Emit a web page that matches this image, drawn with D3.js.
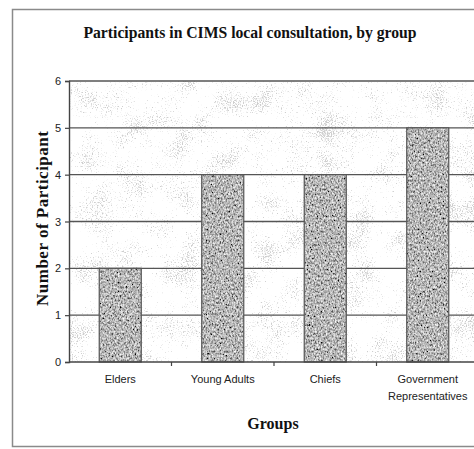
<!DOCTYPE html>
<html>
<head>
<meta charset="utf-8">
<script src="https://cdn.jsdelivr.net/npm/d3@7"></script>
<style>
  html, body { margin: 0; padding: 0; background: #fff; }
  svg { display: block; }
</style>
</head>
<body>
<svg id="chart" width="474" height="449"></svg>
<script>
// Chart data
const groups = ["Elders", "Young Adults", "Chiefs", "Government Representatives"];
const participants = [2, 4, 4, 5];
const yTicks = [0, 1, 2, 3, 4, 5, 6];
const titleText = "Participants in CIMS local consultation, by group";
const yTitle = "Number of Participants";
const xTitle = "Groups";

const svg = d3.select("#chart");
const W = 474, H = 449;
const plot = { left: 69, top: 81, right: 479, bottom: 362 };

const defs = svg.append("defs");
const opaqueGray = "1 0 0 0 0  1 0 0 0 0  1 0 0 0 0  0 0 0 0 1";

// Grainy fill for the bars
const grain = defs.append("filter").attr("id", "grain")
  .attr("x", 0).attr("y", 0).attr("width", 1).attr("height", 1);
grain.append("feTurbulence").attr("type", "fractalNoise")
  .attr("baseFrequency", "0.65 0.45").attr("numOctaves", 3).attr("seed", 7).attr("result", "noise");
grain.append("feColorMatrix").attr("in", "noise").attr("type", "matrix")
  .attr("values", "1.5 0 0 0 -0.28  1.5 0 0 0 -0.28  1.5 0 0 0 -0.28  0 0 0 0 1")
  .attr("result", "tone");
grain.append("feComposite").attr("in", "tone").attr("in2", "SourceGraphic").attr("operator", "in");

// Sparse, patchy stipple over the plot background
const stipple = defs.append("filter").attr("id", "stipple")
  .attr("x", 0).attr("y", 0).attr("width", 1).attr("height", 1);
stipple.append("feTurbulence").attr("type", "fractalNoise")
  .attr("baseFrequency", 0.8).attr("numOctaves", 2).attr("seed", 3).attr("result", "fineRaw");
stipple.append("feColorMatrix").attr("in", "fineRaw").attr("type", "matrix")
  .attr("values", opaqueGray).attr("result", "fine");
stipple.append("feTurbulence").attr("type", "fractalNoise")
  .attr("baseFrequency", 0.035).attr("numOctaves", 2).attr("seed", 11).attr("result", "coarseRaw");
stipple.append("feColorMatrix").attr("in", "coarseRaw").attr("type", "matrix")
  .attr("values", opaqueGray).attr("result", "coarse");
stipple.append("feComposite").attr("in", "fine").attr("in2", "coarse")
  .attr("operator", "arithmetic").attr("k1", 0).attr("k2", 1).attr("k3", 0.6).attr("k4", -0.3)
  .attr("result", "mix");
stipple.append("feColorMatrix").attr("in", "mix").attr("type", "matrix")
  .attr("values", "0 0 0 0 0.62  0 0 0 0 0.62  0 0 0 0 0.62  5 0 0 0 -3.12");

defs.append("clipPath").attr("id", "ytitle-clip")
  .append("rect").attr("x", 0).attr("y", 131).attr("width", 69).attr("height", 260);

// Outer frame
svg.append("rect")
  .attr("x", 12.5).attr("y", 9.5).attr("width", W + 20).attr("height", 437)
  .attr("fill", "none").attr("stroke", "#8a8a8a").attr("stroke-width", 1.5);

// Title
svg.append("text")
  .attr("x", 250).attr("y", 38)
  .attr("text-anchor", "middle")
  .style("font-family", "'Liberation Serif', 'Times New Roman', serif")
  .style("font-weight", "bold").style("font-size", "15.7px")
  .attr("fill", "#111")
  .text(titleText);

// Scales
const x = d3.scaleBand().domain(groups)
  .range([plot.left, plot.right]).paddingInner(0.59).paddingOuter(0.295);
const xBand = d3.scaleBand().domain(groups).range([plot.left, plot.right]);
const y = d3.scaleLinear().domain([0, 6]).range([plot.bottom, plot.top]);

// Plot background and its stipple texture
const plotRect = () => svg.append("rect")
  .attr("x", plot.left).attr("y", plot.top)
  .attr("width", plot.right - plot.left).attr("height", plot.bottom - plot.top);
plotRect().attr("fill", "#fff");
plotRect().attr("fill", "#fff").attr("filter", "url(#stipple)");

// Gridlines
svg.append("g").selectAll("line").data(yTicks.filter(d => d > 0)).join("line")
  .attr("x1", plot.left).attr("x2", plot.right)
  .attr("y1", d => y(d)).attr("y2", d => y(d))
  .attr("stroke", "#555").attr("stroke-width", 1.4);

// Bars
const bars = svg.append("g");
bars.selectAll("rect.fill").data(participants).join("rect")
  .attr("class", "fill")
  .attr("x", (d, i) => x(groups[i]))
  .attr("y", d => y(d))
  .attr("width", x.bandwidth())
  .attr("height", d => y(0) - y(d))
  .attr("fill", "#888")
  .attr("filter", "url(#grain)");
bars.selectAll("rect.edge").data(participants).join("rect")
  .attr("class", "edge")
  .attr("x", (d, i) => x(groups[i]))
  .attr("y", d => y(d))
  .attr("width", x.bandwidth())
  .attr("height", d => y(0) - y(d))
  .attr("fill", "none")
  .attr("stroke", "#555").attr("stroke-width", 1.2);

// Y axis
const yAxis = svg.append("g")
  .attr("transform", `translate(${plot.left},0)`)
  .call(d3.axisLeft(y).tickValues(yTicks).tickSize(4).tickPadding(4).tickFormat(d3.format("d")));
yAxis.select(".domain").attr("stroke", "#444").attr("stroke-width", 1.4);
yAxis.selectAll(".tick line").attr("stroke", "#444").attr("stroke-width", 1.2);
yAxis.selectAll(".tick text")
  .style("font-family", "'Liberation Sans', Arial, sans-serif")
  .style("font-size", "11px").attr("fill", "#222");

// X axis: ticks at band boundaries
const xAxisG = svg.append("g");
xAxisG.append("line")
  .attr("x1", plot.left).attr("x2", plot.right)
  .attr("y1", plot.bottom).attr("y2", plot.bottom)
  .attr("stroke", "#444").attr("stroke-width", 1.4);
xAxisG.selectAll("line.tick").data(groups.slice(1)).join("line")
  .attr("class", "tick")
  .attr("x1", d => xBand(d)).attr("x2", d => xBand(d))
  .attr("y1", plot.bottom).attr("y2", plot.bottom + 4)
  .attr("stroke", "#444").attr("stroke-width", 1.2);

// Category labels (long names wrap onto two lines)
const wrapLabel = name => name === "Government Representatives" ? ["Government", "Representatives"] : [name];
xAxisG.selectAll("text.cat").data(groups).join("text")
  .attr("class", "cat")
  .attr("text-anchor", "middle")
  .style("font-family", "'Liberation Sans', Arial, sans-serif")
  .style("font-size", "11px").attr("fill", "#222")
  .each(function (d) {
    const t = d3.select(this);
    wrapLabel(d).forEach((line, k) => {
      t.append("tspan")
        .attr("x", xBand(d) + xBand.bandwidth() / 2)
        .attr("y", 383 + k * 17)
        .text(line);
    });
  });

// Axis titles
svg.append("text")
  .attr("x", 273).attr("y", 429)
  .attr("text-anchor", "middle")
  .style("font-family", "'Liberation Serif', 'Times New Roman', serif")
  .style("font-weight", "bold").style("font-size", "16px")
  .attr("fill", "#111")
  .text(xTitle);

svg.append("g").attr("clip-path", "url(#ytitle-clip)")
  .append("text")
  .attr("transform", "translate(48,306) rotate(-90)")
  .attr("text-anchor", "start")
  .style("font-family", "'Liberation Serif', 'Times New Roman', serif")
  .style("font-weight", "bold").style("font-size", "17px")
  .style("letter-spacing", "0.5px")
  .attr("fill", "#111")
  .text(yTitle);
</script>
</body>
</html>
